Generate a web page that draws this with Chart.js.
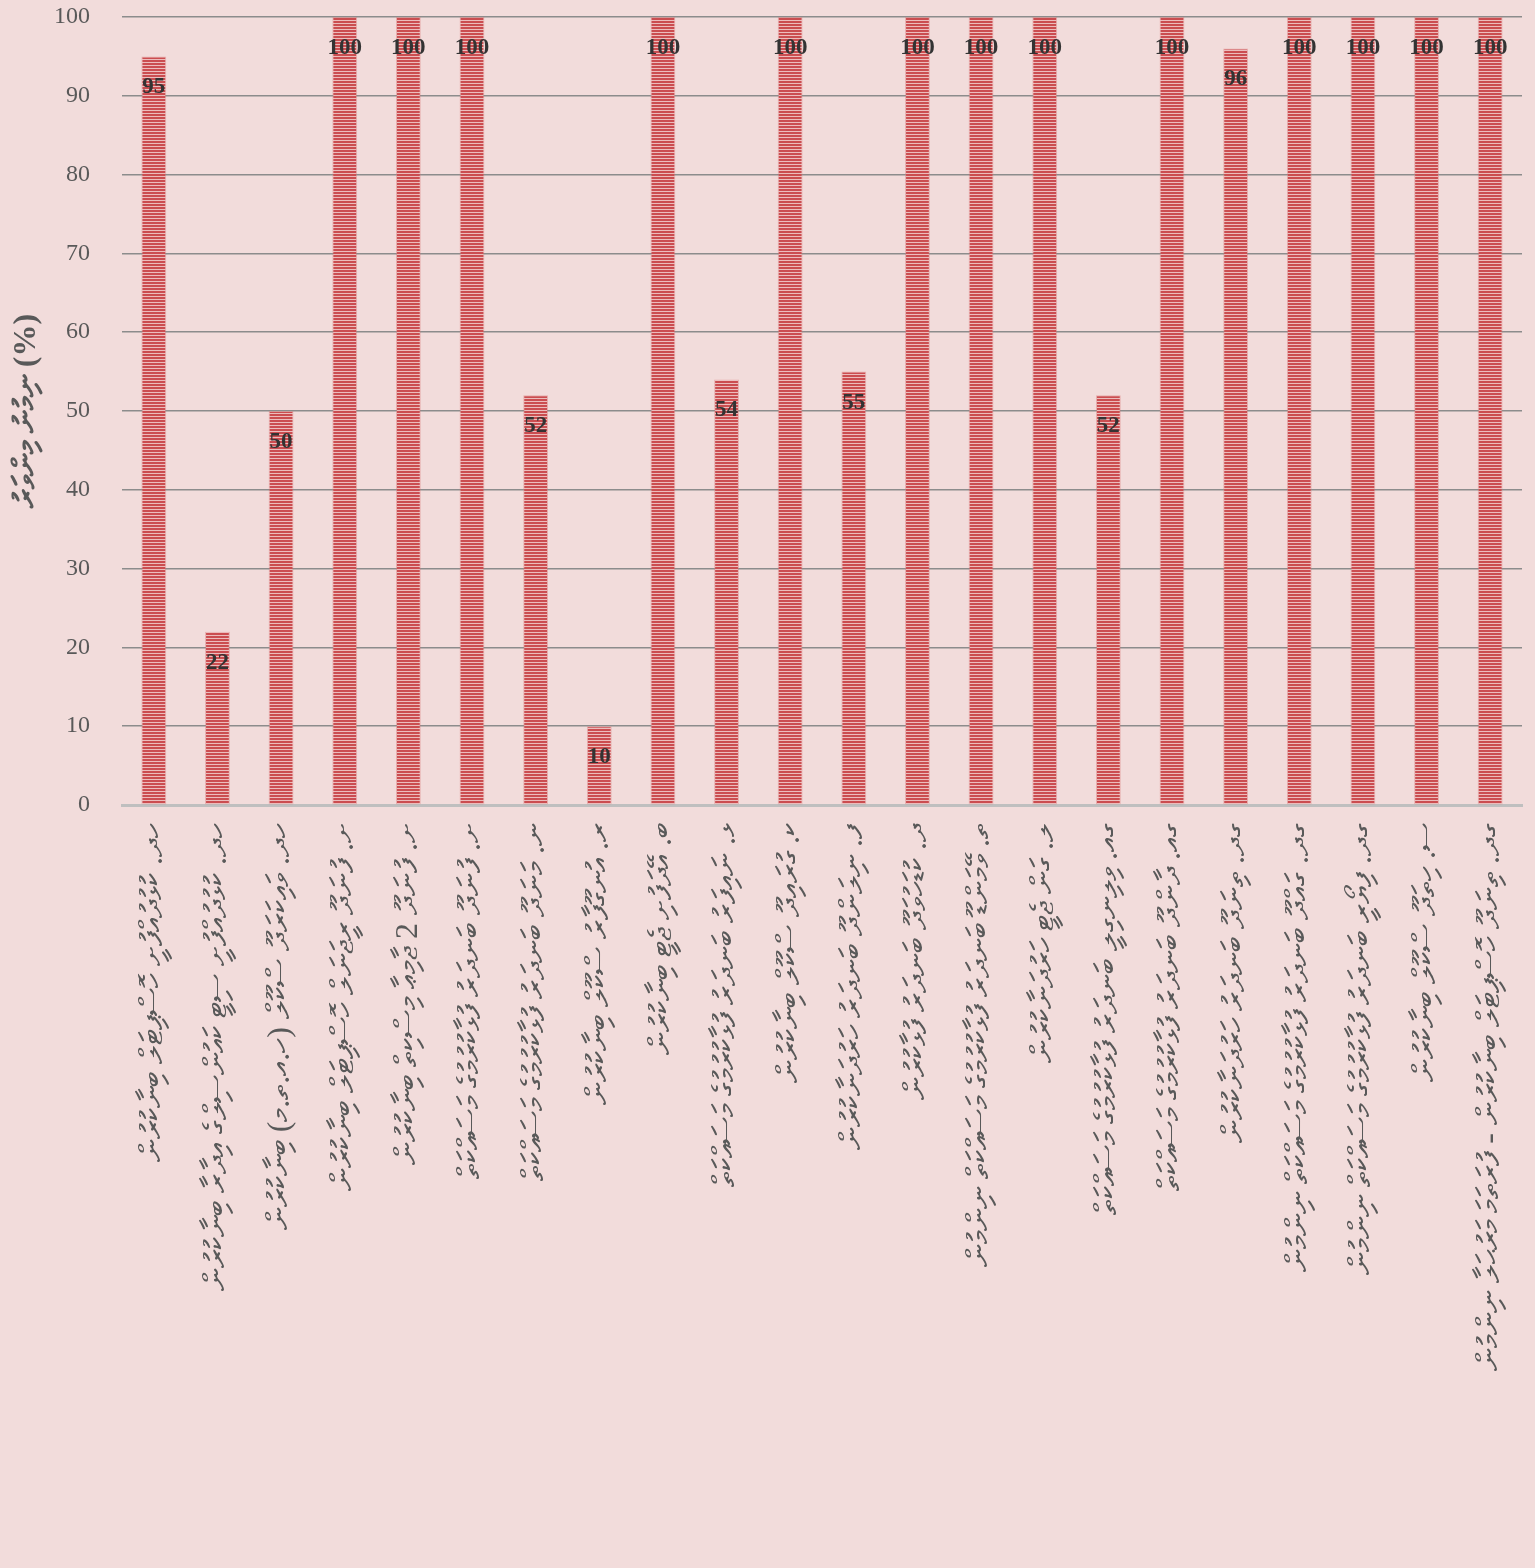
<!DOCTYPE html>
<html>
<head>
<meta charset="utf-8">
<script src="https://cdn.jsdelivr.net/npm/chart.js@4.4.1/dist/chart.umd.min.js"></script>
<style>
  html, body { margin: 0; padding: 0; background: #f2dcdb; }
  #wrap { width: 1535px; height: 1568px; overflow: hidden; }
</style>
</head>
<body>
<div id="wrap"><canvas id="chart" width="1535" height="1568"></canvas></div>
<script>
// categories (Dhivehi labels, top of each label is where the text starts)
// NOTE: the rotated Thaana labels in the source picture could not be read
// reliably; only the atoll prefixes and rough lengths follow the picture,
// the rest of each label is an approximate stand-in and should be checked.
var categories = [
    'ހދ. ކުޅުދުއްފުށީ ހޮސްޕިޓަލް ބިނާކުރުން',
    'ހދ. ކުޅުދުއްފުށީ ސިޓީ ކައުންސިލްގެ އިދާރާ ބިނާކުރުން',
    'ހދ. ވައިކަރަދޫ ސްކޫލް (ހ.އ.ތ.މ) ބިނާކުރުން',
    'ށ. ފުނަދޫ ރީޖަނަލް ހޮސްޕިޓަލް ބިނާކުރުން',
    'ށ. ފުނަދޫ 2 ޖާމިޢާ މިސްކިތް ބިނާކުރުން',
    'ށ. ފުނަދޫ ބަނދަރު ފުޅާކުރުމުގެ މަސައްކަތް',
    'ނ. މަނަދޫ ބަނދަރު ފުޅާކުރުމުގެ މަސައްކަތް',
    'ރ. އުނގޫފާރު ސްކޫލް ބިނާކުރުން',
    'ބ. އޭދަފުށި ޖެޓީ ބިނާކުރުން',
    'ޅ. ނައިފަރު ބަނދަރު ފުޅާކުރުމުގެ މަސައްކަތް',
    'ކ. ގުރައިދޫ ސްކޫލް ބިނާކުރުން',
    'ފ. ނިލަންދޫ ބަނދަރު ހަރުދަނާކުރުން',
    'ދ. ކުޑަހުވަދޫ ބަނދަރު ފުޅާކުރުން',
    'ތ. ވޭމަންޑޫ ބަނދަރު ފުޅާކުރުމުގެ މަސައްކަތް ނިންމުން',
    'ލ. ގަން ޖެޓީ ހަރުދަނާކުރުން',
    'ގއ. ވިލިނގިލީ ބަނދަރު ފުޅާކުރުމުގެ މަސައްކަތް',
    'ގއ. ދާންދޫ ބަނދަރު ފުޅާކުރުމުގެ މަސައްކަތް',
    'ގދ. ތިނަދޫ ބަނދަރު ހަރުދަނާކުރުން',
    'ގދ. ގައްދޫ ބަނދަރު ފުޅާކުރުމުގެ މަސައްކަތް ނިންމުން',
    'ގދ. ފިޔޯރީ ބަނދަރު ފުޅާކުރުމުގެ މަސައްކަތް ނިންމުން',
    'ސ. ހިތަދޫ ސްކޫލް ބިނާކުރުން',
    'ގދ. ތިނަދޫ ހޮސްޕިޓަލް ބިނާކުރުން - ފުރަތަމަ މަރުޙަލާ ނިންމުން'
];

// completion percentage per item
var completion = [95, 22, 50, 100, 100, 100, 52, 10, 100, 54, 100, 55,
                  100, 100, 100, 52, 100, 96, 100, 100, 100, 100];

var yTicks = [0, 10, 20, 30, 40, 50, 60, 70, 80, 90, 100];
var yTitle = 'ނިމުނު މިންވަރު (%)';

// striped red fill like the original
function makeStripes() {
    var c = document.createElement('canvas');
    c.width = 8;
    c.height = 3;
    var g = c.getContext('2d');
    g.fillStyle = '#ecbcbc';
    g.fillRect(0, 0, 8, 3);
    g.fillStyle = '#cb4d50';
    g.fillRect(0, 0, 8, 2);
    return g.createPattern(c, 'repeat');
}

// value printed inside the top of each bar
var valueLabels = {
    id: 'valueLabels',
    afterDatasetsDraw: function (chart) {
        var ctx = chart.ctx;
        var meta = chart.getDatasetMeta(0);
        ctx.save();
        ctx.font = 'bold 23px "Liberation Serif", serif';
        ctx.fillStyle = '#333333';
        ctx.textAlign = 'center';
        ctx.textBaseline = 'middle';
        meta.data.forEach(function (bar, i) {
            ctx.fillText(String(completion[i]), bar.x, bar.y + 31);
        });
        ctx.restore();
    }
};

var ctx = document.getElementById('chart').getContext('2d');
new Chart(ctx, {
    type: 'bar',
    data: {
        labels: categories,
        datasets: [{
            data: completion,
            backgroundColor: makeStripes(),
            borderColor: 'rgba(220, 120, 120, 0.45)',
            borderWidth: 1,
            barPercentage: 0.39,
            categoryPercentage: 1
        }]
    },
    options: {
        responsive: false,
        animation: false,
        layout: { padding: { top: 17, right: 13, left: 0, bottom: 0 } },
        plugins: {
            legend: { display: false },
            tooltip: { enabled: false }
        },
        scales: {
            x: {
                grid: { display: false },
                border: { color: '#bfbfbf', width: 3 },
                ticks: {
                    autoSkip: false,
                    minRotation: 90,
                    maxRotation: 90,
                    padding: 10,
                    color: '#595959',
                    font: { family: 'serif', size: 32 }
                },
                afterFit: function (scale) {
                    scale.height = 763;
                    // rotated labels would otherwise shrink the plot sideways
                    scale.paddingLeft = 0;
                    scale.paddingRight = 0;
                }
            },
            y: {
                min: 0,
                max: 100,
                afterBuildTicks: function (scale) {
                    scale.ticks = yTicks.map(function (v) { return { value: v }; });
                },
                grid: {
                    drawTicks: false,
                    lineWidth: 1.5,
                    color: function (c) {
                        return c.tick && c.tick.value === 0 ? 'rgba(0,0,0,0)' : '#8c8c8c';
                    }
                },
                border: { display: false },
                ticks: {
                    padding: 32,
                    color: '#595959',
                    font: { family: '"Liberation Serif", serif', size: 24 }
                },
                title: {
                    display: true,
                    text: yTitle,
                    color: '#595959',
                    padding: { top: 8, bottom: 0 },
                    font: { family: '"Liberation Serif", serif', size: 32, weight: 'bold' }
                },
                afterFit: function (scale) {
                    scale.width = 122;
                    // the tick padding would otherwise push the plot top down
                    scale.paddingTop = 0;
                    scale.paddingBottom = 0;
                }
            }
        }
    },
    plugins: [valueLabels]
});
</script>
</body>
</html>
